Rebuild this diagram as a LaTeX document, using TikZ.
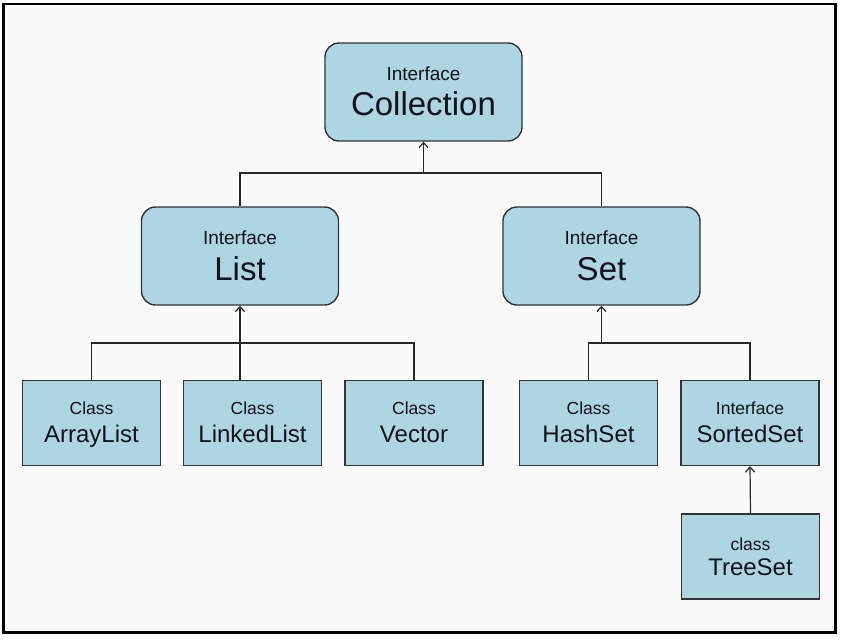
\documentclass[tikz,border=0pt]{standalone}
\usepackage{fontspec}
\setmainfont{Liberation Sans}
\usetikzlibrary{arrows.meta}
\definecolor{boxfill}{RGB}{174,214,226}
\definecolor{boxline}{RGB}{50,52,56}
\definecolor{lineclr}{RGB}{40,40,40}
\definecolor{txt}{RGB}{16,18,28}
\definecolor{bg}{RGB}{250,250,250}
\tikzset{
  ibox/.style={draw=boxline, fill=boxfill, line width=1.4pt, rounded corners=14pt,
    minimum width=197pt, minimum height=98pt, inner sep=0pt},
  cbox/.style={draw=boxline, fill=boxfill, line width=1.4pt,
    minimum width=138pt, minimum height=85pt, inner sep=0pt},
  small/.style={anchor=base, inner sep=0pt, text=txt, font=\fontsize{19}{19}\selectfont},
  big/.style={anchor=base, inner sep=0pt, text=txt, font=\fontsize{33}{33}\selectfont},
  csmall/.style={anchor=base, inner sep=0pt, text=txt, font=\fontsize{17.5}{17.5}\selectfont},
  cbig/.style={anchor=base, inner sep=0pt, text=txt, font=\fontsize{24}{24}\selectfont},
  conn/.style={line width=1.2pt, draw=lineclr},
  arr/.style={conn, -{Straight Barb[length=5pt,width=9pt,line width=1.2pt]}}
}
\begin{document}
\begin{tikzpicture}[x=1pt,y=-1pt]
\useasboundingbox (0,0) rectangle (843,640);
\fill[white] (0,0) rectangle (843,640);
\filldraw[fill=bg, draw=black, line width=2.5pt] (3.5,4) rectangle (835.5,632.5);

% boxes
\node[ibox] (coll) at (423.5,92) {};
\node[ibox] (list) at (240,256) {};
\node[ibox] (set) at (601.5,256) {};
\node[cbox] (al) at (91.5,423) {};
\node[cbox] (ll) at (252.5,423) {};
\node[cbox] (vec) at (414,423) {};
\node[cbox] (hs) at (588.5,423) {};
\node[cbox] (ss) at (750,423) {};
\node[cbox] (ts) at (750.5,556.5) {};

% texts
\node[small] (collA) at ([yshift=12pt]coll.center) {Interface};
\node[big] (collB) at ([yshift=-23pt]coll.center) {Collection};
\node[small] (listA) at ([yshift=12pt]list.center) {Interface};
\node[big] (listB) at ([yshift=-24pt]list.center) {List};
\node[small] (setA) at ([yshift=12pt]set.center) {Interface};
\node[big] (setB) at ([yshift=-24pt]set.center) {Set};

\node[csmall] (alA) at ([yshift=8.5pt]al.center) {Class};
\node[cbig] (alB) at ([yshift=-19pt]al.center) {ArrayList};
\node[csmall] (llA) at ([yshift=8.5pt]ll.center) {Class};
\node[cbig] (llB) at ([yshift=-19pt]ll.center) {LinkedList};
\node[csmall] (vecA) at ([yshift=8.5pt]vec.center) {Class};
\node[cbig] (vecB) at ([yshift=-19pt]vec.center) {Vector};
\node[csmall] (hsA) at ([yshift=8.5pt]hs.center) {Class};
\node[cbig] (hsB) at ([yshift=-19pt]hs.center) {HashSet};
\node[csmall] (ssA) at ([yshift=8.5pt]ss.center) {Interface};
\node[cbig] (ssB) at ([yshift=-19pt]ss.center) {SortedSet};
\node[csmall] (tsA) at ([yshift=6.5pt]ts.center) {class};
\node[cbig] (tsB) at ([yshift=-18.5pt]ts.center) {TreeSet};

% connectors
\coordinate (bus1) at (423.5,173);
\coordinate (bus2) at (601.5,343);
\coordinate (bus3) at (240,343);
\draw[conn] (list.north) |- (bus1) -| (set.north);
\draw[arr] (bus1) -- (coll.south);
\draw[conn] (al.north) |- (bus3) -| (vec.north);
\draw[arr] (ll.north -| bus3) -- (list.south);
\draw[conn] (hs.north) |- (bus2) -| (ss.north);
\draw[arr] (bus2) -- (set.south);
\draw[arr] (ts.north) -- (ss.south);
\end{tikzpicture}
\end{document}
